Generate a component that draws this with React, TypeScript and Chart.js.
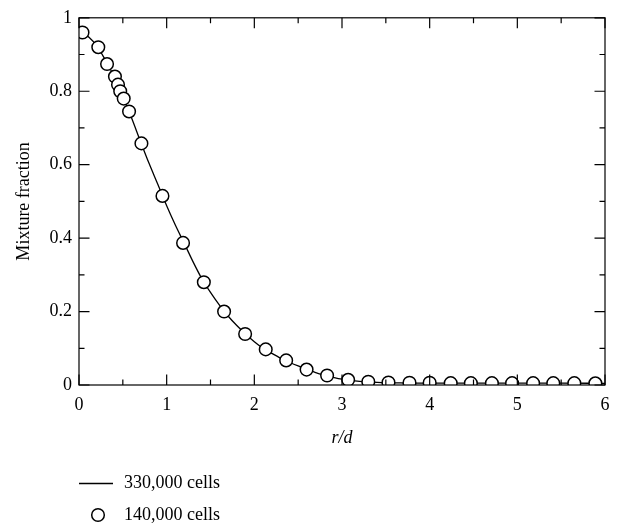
import React, { useEffect, useRef } from 'react';
import { Chart, registerables } from 'chart.js';

Chart.register(...registerables);

// 330,000 cells (solid line)
const lineR = [0.04, 0.1, 0.2, 0.3, 0.4, 0.5, 0.6, 0.7, 0.8, 0.9, 1.0, 1.1, 1.2, 1.3, 1.4, 1.5, 1.6, 1.7, 1.8, 1.9, 2.0, 2.1, 2.2, 2.3, 2.4, 2.5, 2.6, 2.7, 2.8, 2.9, 3.0, 3.2, 3.4, 3.6, 3.8, 4.0, 4.5, 5.0, 5.5, 6.0];
const lineZ = [0.962, 0.95, 0.925, 0.885, 0.84, 0.785, 0.727, 0.664, 0.603, 0.546, 0.488, 0.435, 0.386, 0.336, 0.29, 0.252, 0.218, 0.188, 0.162, 0.139, 0.118, 0.1, 0.086, 0.073, 0.062, 0.052, 0.043, 0.034, 0.027, 0.021, 0.016, 0.01, 0.007, 0.006, 0.005, 0.005, 0.005, 0.005, 0.005, 0.0045];

// 140,000 cells (open circles)
const pointR = [0.04, 0.22, 0.32, 0.41, 0.445, 0.47, 0.51, 0.571, 0.712, 0.952, 1.187, 1.424, 1.655, 1.895, 2.13, 2.363, 2.596, 2.83, 3.07, 3.30, 3.53, 3.77, 4.0, 4.24, 4.47, 4.71, 4.94, 5.18, 5.41, 5.65, 5.89];
const pointZ = [0.96, 0.92, 0.874, 0.84, 0.818, 0.8, 0.78, 0.745, 0.658, 0.515, 0.387, 0.28, 0.2, 0.139, 0.097, 0.067, 0.042, 0.026, 0.014, 0.009, 0.007, 0.006, 0.006, 0.005, 0.005, 0.005, 0.005, 0.005, 0.005, 0.005, 0.0045];

const xTicks = [0, 1, 2, 3, 4, 5, 6];
const xMinorTicks = [0.5, 1.5, 2.5, 3.5, 4.5, 5.5];
const yTicks = [0, 0.2, 0.4, 0.6, 0.8, 1];
const yMinorTicks = [0.1, 0.3, 0.5, 0.7, 0.9];
const yTickLabels = ['0', '0.2', '0.4', '0.6', '0.8', '1'];
const seriesNames = ['330,000 cells', '140,000 cells'];
const xTitle = 'r/d';
const yTitle = 'Mixture fraction';

const FONT = "'Liberation Serif', 'Times New Roman', serif";

const framePlugin = {
  id: 'frameTicks',
  afterDatasetsDraw(chart: any) {
    const { ctx, chartArea: a, scales } = chart;
    const xs = scales.x;
    const ys = scales.y;
    ctx.save();
    ctx.strokeStyle = '#000';
    ctx.lineWidth = 1.2;
    ctx.strokeRect(a.left, a.top, a.right - a.left, a.bottom - a.top);
    ctx.beginPath();
    const major = 10.5;
    const minor = 5.5;
    const xt = (v: number, len: number) => {
      const px = xs.getPixelForValue(v);
      ctx.moveTo(px, a.bottom);
      ctx.lineTo(px, a.bottom - len);
      ctx.moveTo(px, a.top);
      ctx.lineTo(px, a.top + len);
    };
    const yt = (v: number, len: number) => {
      const py = ys.getPixelForValue(v);
      ctx.moveTo(a.left, py);
      ctx.lineTo(a.left + len, py);
      ctx.moveTo(a.right, py);
      ctx.lineTo(a.right - len, py);
    };
    xTicks.forEach((v) => xt(v, major));
    xMinorTicks.forEach((v) => xt(v, minor));
    yTicks.forEach((v) => yt(v, major));
    yMinorTicks.forEach((v) => yt(v, minor));
    ctx.stroke();
    ctx.restore();
  },
  afterDraw(chart: any) {
    const { ctx, chartArea: a } = chart;
    const lineDs = chart.data.datasets[1];
    const ptDs = chart.data.datasets[0];
    ctx.save();
    ctx.font = `18px ${FONT}`;
    ctx.fillStyle = '#000';
    ctx.textBaseline = 'middle';
    ctx.textAlign = 'left';
    const y1 = 483.5;
    const y2 = 515;
    const x0 = a.left;
    ctx.strokeStyle = lineDs.borderColor;
    ctx.lineWidth = 1.4;
    ctx.beginPath();
    ctx.moveTo(x0, y1);
    ctx.lineTo(x0 + 34, y1);
    ctx.stroke();
    ctx.fillText(lineDs.label, x0 + 45, y1);
    ctx.beginPath();
    ctx.arc(x0 + 19, y2, ptDs.pointRadius, 0, Math.PI * 2);
    ctx.fillStyle = ptDs.pointBackgroundColor;
    ctx.fill();
    ctx.strokeStyle = ptDs.pointBorderColor;
    ctx.lineWidth = ptDs.pointBorderWidth;
    ctx.stroke();
    ctx.fillStyle = '#000';
    ctx.fillText(ptDs.label, x0 + 45, y2);
    ctx.restore();
  },
};

export default function App() {
  const ref = useRef<HTMLCanvasElement>(null);
  useEffect(() => {
    if (!ref.current) return;
    const chart = new Chart(ref.current, {
      type: 'scatter',
      data: {
        datasets: [
          {
            label: seriesNames[1],
            data: pointR.map((r, i) => ({ x: r, y: pointZ[i] })),
            showLine: false,
            pointRadius: 6.3,
            pointBackgroundColor: '#fff',
            pointBorderColor: '#000',
            pointBorderWidth: 1.5,
            order: 0,
          } as any,
          {
            label: seriesNames[0],
            data: lineR.map((r, i) => ({ x: r, y: lineZ[i] })),
            showLine: true,
            borderColor: '#000',
            borderWidth: 1.3,
            pointRadius: 0,
            cubicInterpolationMode: 'monotone',
            fill: false,
            order: 1,
          } as any,
        ],
      },
      options: {
        animation: false,
        responsive: false,
        devicePixelRatio: 1,
        layout: { padding: { top: 10, right: 14, left: 9, bottom: 74 } },
        plugins: { legend: { display: false }, tooltip: { enabled: false } },
        scales: {
          x: {
            type: 'linear',
            min: 0,
            max: 6,
            grid: { display: false, drawTicks: false },
            border: { display: false },
            afterBuildTicks: (s: any) => {
              s.ticks = xTicks.map((v) => ({ value: v }));
            },
            afterFit: (s: any) => {
              s.height = 68;
            },
            ticks: {
              color: '#000',
              padding: 9,
              maxRotation: 0,
              font: { family: FONT, size: 18 },
              callback: (v: any) => String(v),
            },
            title: {
              display: true,
              text: xTitle,
              color: '#000',
              font: { family: FONT, size: 18, style: 'italic' },
              padding: { top: 4, bottom: 4 },
            },
          },
          y: {
            type: 'linear',
            min: 0,
            max: 1,
            grid: { display: false, drawTicks: false },
            border: { display: false },
            afterBuildTicks: (s: any) => {
              s.ticks = yTicks.map((v) => ({ value: v }));
            },
            afterFit: (s: any) => {
              s.width = 70;
            },
            ticks: {
              color: '#000',
              padding: 7,
              font: { family: FONT, size: 18 },
              callback: (v: any) => {
                const i = yTicks.findIndex((t) => Math.abs(t - v) < 1e-9);
                return i >= 0 ? yTickLabels[i] : '';
              },
            },
            title: {
              display: true,
              text: yTitle,
              color: '#000',
              font: { family: FONT, size: 18 },
              padding: { top: 4, bottom: 4 },
            },
          },
        },
      } as any,
      plugins: [framePlugin],
    });
    return () => chart.destroy();
  }, []);
  return (
    <div style={{ position: 'fixed', left: 0, top: 0, width: 619, height: 527, background: '#fff' }}>
      <canvas ref={ref} width={619} height={527} style={{ width: 619, height: 527, display: 'block' }} />
    </div>
  );
}
